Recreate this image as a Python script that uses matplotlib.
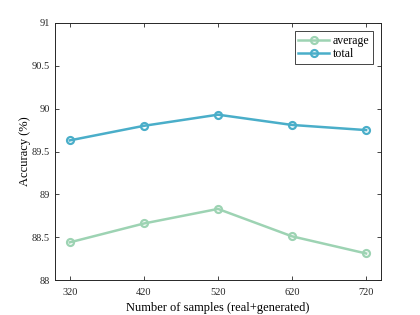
import matplotlib
matplotlib.use("Agg")
import matplotlib.pyplot as plt

plt.rcParams['font.family'] = ['Liberation Serif', 'DejaVu Serif']

samples = [320, 420, 520, 620, 720]
acc_average = [88.44, 88.66, 88.83, 88.51, 88.31]
acc_total = [89.63, 89.80, 89.93, 89.81, 89.75]
yticks = [88, 88.5, 89, 89.5, 90, 90.5, 91]
ytick_labels = ["88", "88.5", "89", "89.5", "90", "90.5", "91"]

c_avg = "#9dd3b3"
c_tot = "#4aaec9"

fig = plt.figure(figsize=(4.2, 3.15), dpi=100)
ax = fig.add_axes([0.131, 0.111, 0.776, 0.816])

ax.plot(samples, acc_average, color=c_avg, lw=1.8, marker="o", ms=5,
        mfc="none", mew=1.6, label="average")
ax.plot(samples, acc_total, color=c_tot, lw=1.8, marker="o", ms=5,
        mfc="none", mew=1.6, label="total")

ax.set_xlim(300, 740)
ax.set_ylim(88, 91)
ax.set_xticks(samples)
ax.set_yticks(yticks)
ax.set_yticklabels(ytick_labels)
ax.tick_params(direction="in", length=3, width=0.6, labelsize=7.5,
               top=True, right=True, colors="#262626")
ax.tick_params(axis="x", pad=6)
for s in ax.spines.values():
    s.set_linewidth(0.7)
    s.set_color("#262626")

ax.set_xlabel("Number of samples (real+generated)", fontsize=9, labelpad=3)
ax.set_ylabel("Accuracy (%)", fontsize=9, labelpad=1)

leg = ax.legend(loc="upper right", fontsize=8.5, fancybox=False,
                edgecolor="#262626", framealpha=1, borderpad=0.3,
                handlelength=2.6, handletextpad=0.3, labelspacing=0.1,
                borderaxespad=0.7)
leg.get_frame().set_linewidth(0.6)

fig.savefig("out.png", dpi=100)
